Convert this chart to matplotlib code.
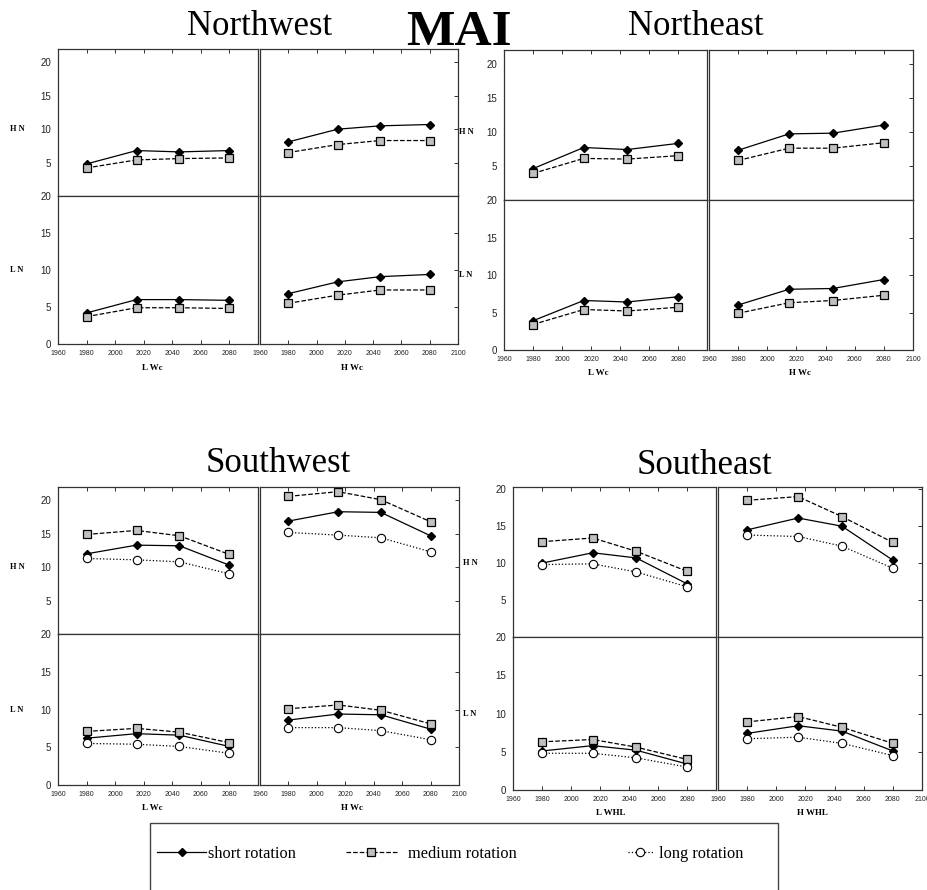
import numpy as np
import matplotlib
matplotlib.use('Agg')
from matplotlib import pyplot as plt
from matplotlib.patches import Rectangle
from matplotlib.transforms import blended_transform_factory

W, H = 928, 890

years = [1980, 2015, 2045, 2080]

# panel order in each list: (H N, L Wc), (H N, H Wc), (L N, L Wc), (L N, H Wc)
nw_short = [[4.8, 6.8, 6.6, 6.8], [8.1, 10.0, 10.5, 10.7], [4.2, 6.0, 6.0, 5.9], [6.8, 8.4, 9.1, 9.4]]
nw_medium = [[4.2, 5.4, 5.6, 5.7], [6.5, 7.7, 8.3, 8.3], [3.7, 4.9, 4.9, 4.8], [5.5, 6.6, 7.3, 7.3]]

ne_short = [[4.6, 7.7, 7.4, 8.3], [7.3, 9.7, 9.8, 11.0], [3.9, 6.6, 6.4, 7.1], [6.0, 8.1, 8.2, 9.4]]
ne_medium = [[3.9, 6.1, 6.0, 6.5], [5.8, 7.6, 7.6, 8.4], [3.4, 5.4, 5.2, 5.7], [4.9, 6.3, 6.6, 7.3]]

sw_short = [[12.0, 13.3, 13.2, 10.3], [16.9, 18.3, 18.2, 14.7], [6.2, 6.8, 6.6, 5.1], [8.6, 9.4, 9.3, 7.4]]
sw_medium = [[14.9, 15.5, 14.7, 11.9], [20.6, 21.3, 20.1, 16.8], [7.1, 7.5, 7.0, 5.6], [10.1, 10.6, 9.9, 8.1]]
sw_long = [[11.3, 11.1, 10.8, 9.0], [15.2, 14.8, 14.4, 12.3], [5.5, 5.4, 5.1, 4.2], [7.6, 7.6, 7.2, 6.0]]

se_short = [[10.0, 11.4, 10.7, 7.2], [14.5, 16.1, 15.0, 10.4], [5.1, 5.8, 5.2, 3.4], [7.4, 8.4, 7.7, 5.1]]
se_medium = [[12.9, 13.4, 11.6, 8.9], [18.5, 19.0, 16.3, 12.8], [6.3, 6.6, 5.6, 4.0], [8.9, 9.6, 8.2, 6.1]]
se_long = [[9.8, 9.9, 8.8, 6.8], [13.8, 13.6, 12.3, 9.3], [4.8, 4.8, 4.2, 3.0], [6.7, 6.9, 6.1, 4.5]]

row_labels = ['H N', 'L N']
legend_labels = ['short rotation', 'medium rotation', 'long rotation']

SERIF = 'Liberation Serif'
SANS = 'Liberation Sans'

styles = [
    dict(color='black', ls='-', marker='D', ms=4.5, mfc='black', mec='black'),
    dict(color='black', ls='--', marker='s', ms=5.5, mfc='#c0c0c0', mec='black', mew=0.9),
    dict(color='black', ls=':', marker='o', ms=6, mfc='white', mec='black', mew=0.8),
]


def rect(x0, x1, y0, y1):
    return [x0 / W, 1 - y1 / H, (x1 - x0) / W, (y1 - y0) / H]


def draw_block(fig, xs, ys, series, ytop, ylab_x, xlabels, xlab_pos):
    lines = []
    for i in range(4):
        row, col = i // 2, i % 2
        ax = fig.add_axes(rect(xs[2 * col], xs[2 * col + 1], ys[row], ys[row + 1]))
        for s, st in zip(series, styles):
            ln, = ax.plot(years, s[i], lw=0.9, clip_on=False, **st)
            if i == 0:
                lines.append(ln)
        ax.set_xlim(1960, 2100)
        ax.set_ylim(0, ytop[row])
        if col == 0:
            ax.set_xticks(range(1960, 2100, 20))
        else:
            ax.set_xticks(range(1960, 2101, 20))
        ax.set_yticks([5, 10, 15, 20] if row == 0 else [0, 5, 10, 15, 20])
        for sp in ax.spines.values():
            sp.set_color('#333333')
            sp.set_linewidth(0.9)
        ax.tick_params(direction='in', length=3, width=0.7, color='#333333',
                       top=(row == 0), bottom=(row == 1), left=False, right=(col == 1),
                       labelleft=(col == 0), labelbottom=(row == 1), labelcolor='#222222')
        ax.tick_params(axis='x', labelsize=5, pad=4)
        ax.tick_params(axis='y', labelsize=7, pad=5)
        for lab in ax.get_xticklabels() + ax.get_yticklabels():
            lab.set_family(SANS)
        if col == 0:
            tr = blended_transform_factory(fig.transFigure, ax.transData)
            fig.text(ylab_x / W, 10, row_labels[row], transform=tr, ha='center', va='center',
                     family=SERIF, weight='bold', fontsize=6)
        if row == 1:
            fig.text(xlab_pos[col] / W, 1 - xlab_pos[2] / H, xlabels[col], ha='center', va='center',
                     family=SERIF, weight='bold', fontsize=6.5)
    return lines


fig = plt.figure(figsize=(W / 100, H / 100), dpi=100)

draw_block(fig, (58, 258, 260, 458), (49, 196, 344), [nw_short, nw_medium],
           (22, 20), 17, ['L Wc', 'H Wc'], (152, 352, 368))
draw_block(fig, (504, 707, 709, 913), (50, 200, 350), [ne_short, ne_medium],
           (22, 20), 466, ['L Wc', 'H Wc'], (598, 800, 373))
handles = draw_block(fig, (58, 258, 260, 459), (487, 634, 785), [sw_short, sw_medium, sw_long],
                     (22, 20), 17, ['L Wc', 'H Wc'], (152, 352, 808))
draw_block(fig, (513, 716, 718, 922), (487, 637, 790), [se_short, se_medium, se_long],
           (20.3, 20), 470, ['L WHL', 'H WHL'], (611, 812, 813))

# titles
fig.text(260 / W, 1 - 35 / H, 'Northwest', ha='center', va='baseline', family=SERIF, fontsize=25)
fig.text(459 / W, 1 - 45 / H, 'MAI', ha='center', va='baseline', family=SERIF, weight='bold', fontsize=37)
fig.text(696 / W, 1 - 35 / H, 'Northeast', ha='center', va='baseline', family=SERIF, fontsize=25)
fig.text(278 / W, 1 - 472 / H, 'Southwest', ha='center', va='baseline', family=SERIF, fontsize=25)
fig.text(705 / W, 1 - 474 / H, 'Southeast', ha='center', va='baseline', family=SERIF, fontsize=25)

# legend box (runs off the bottom of the figure)
fig.add_artist(Rectangle((150 / W, -0.05), (778 - 150) / W, 0.05 + 1 - 823 / H,
                         transform=fig.transFigure, fill=False, lw=1, ec='#444444'))

leg_y = 1 - 854 / H
for h, lab, x0, hl, pad in zip(handles, legend_labels, [157, 346, 628], [3.0, 3.1, 1.5], [0.1, 0.7, 0.4]):
    fig.legend([h], [lab], loc='center left', bbox_to_anchor=(x0 / W, leg_y), frameon=False,
               handlelength=hl, handletextpad=pad, borderpad=0, borderaxespad=0,
               numpoints=1, prop=dict(family=SERIF, size=11.8))

fig.savefig('out.png', dpi=100)
